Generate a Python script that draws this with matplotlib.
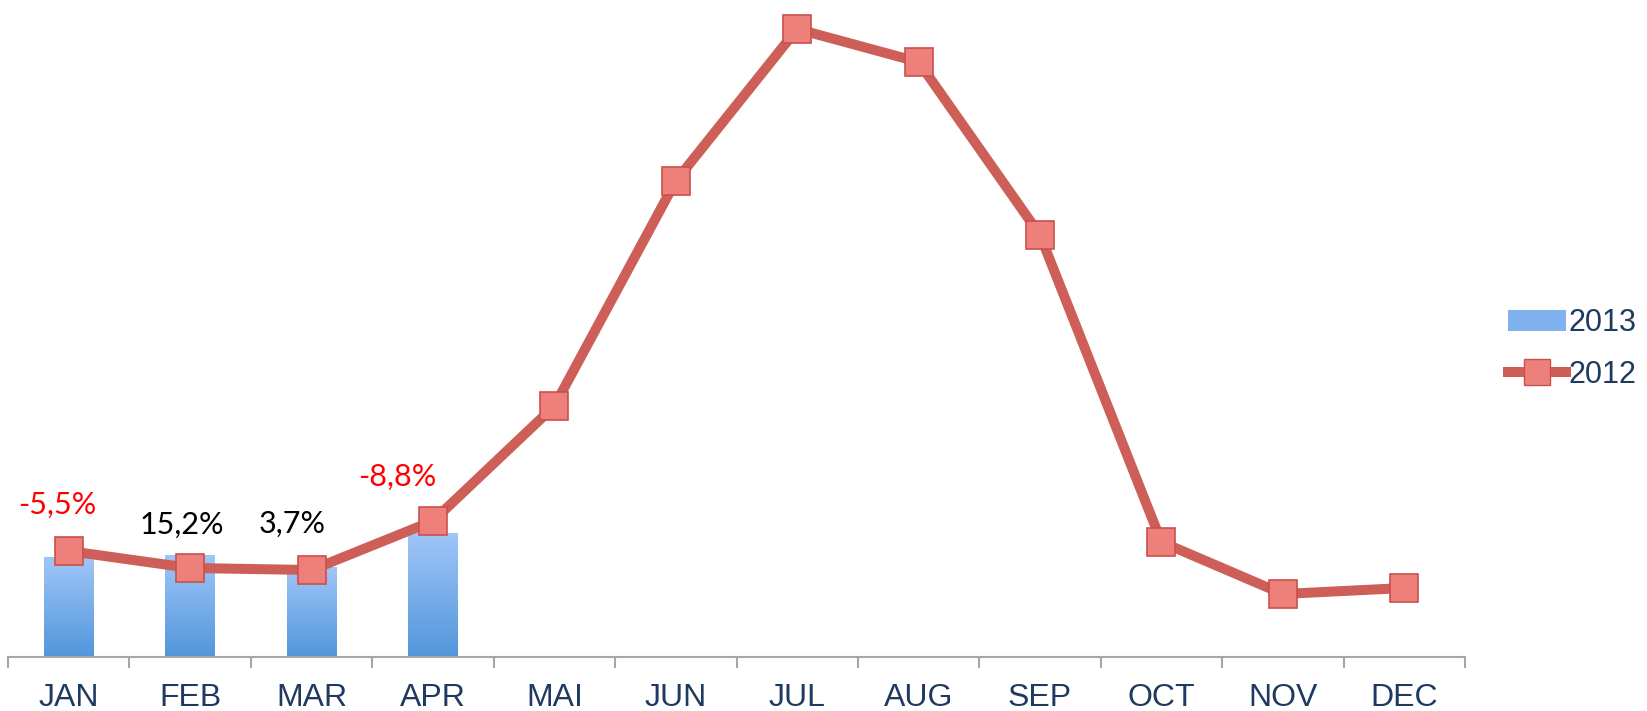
import numpy as np
import matplotlib.pyplot as plt
from matplotlib.patches import Patch
from matplotlib.lines import Line2D
from matplotlib.colors import LinearSegmentedColormap

months = ['JAN', 'FEB', 'MAR', 'APR', 'MAI', 'JUN', 'JUL', 'AUG', 'SEP', 'OCT', 'NOV', 'DEC']
sales_2012 = [106, 89, 87, 136, 251, 476, 628, 595, 422, 115, 63, 69]
sales_2013 = [100, 102, 90, 124]
change_labels = ['-5,5%', '15,2%', '3,7%', '-8,8%']
label_colors = ['red', 'black', 'black', 'red']

line_col = '#CD5F58'
text_col = '#1F3A60'

fig = plt.figure(figsize=(16.47, 7.11), dpi=100)
ax = fig.add_axes([8 / 1647, 54 / 711, 1457 / 1647, 657 / 711])
x = np.arange(len(months))
ax.set_xlim(-0.5, 11.5)
ax.set_ylim(0, 657)

# bars with vertical gradient
grad = np.linspace(0, 1, 256).reshape(-1, 1)
cmap = LinearSegmentedColormap.from_list('bl', ['#5196DB', '#A0C6F8'])
bars = ax.bar(x[:len(sales_2013)], sales_2013, width=0.41, color='none', edgecolor='none', zorder=2)
for b in bars:
    x0, y0, w, h = b.get_x(), b.get_y(), b.get_width(), b.get_height()
    im = ax.imshow(grad, cmap=cmap, extent=[x0, x0 + w, y0, y0 + h], origin='lower',
                   aspect='auto', zorder=2)
    im.set_clip_path(b)

ax.plot(x, sales_2012, color=line_col, lw=7.2, solid_capstyle='round', zorder=3,
        marker='s', ms=19.5, mfc='#EE807B', mec='#C9504C', mew=1.2)

offsets = [(-11, 46), (-8, 43), (-19, 46), (-36, 44)]
for i, lab in enumerate(change_labels):
    ax.annotate(lab, (x[i], sales_2012[i]), xytext=offsets[i], textcoords='offset pixels',
                ha='center', va='center', fontsize=22, family='Lato', color=label_colors[i])

for s in ['top', 'right', 'left']:
    ax.spines[s].set_visible(False)
ax.spines['bottom'].set_color('#A6A6A6')
ax.spines['bottom'].set_linewidth(1.5)
ax.set_yticks([])
ax.set_xticks(x)
ax.set_xticklabels(months, fontsize=23, family='Liberation Sans', color=text_col)
ax.tick_params(axis='x', which='major', length=0, pad=19)
ax.set_xticks(np.arange(-0.5, 12, 1), minor=True)
ax.tick_params(axis='x', which='minor', length=8, width=1.5, color='#A6A6A6')

handles = [Patch(facecolor='#7FB2EE', edgecolor='none'),
           Line2D([], [], color=line_col, lw=7.2, marker='s', ms=19, mfc='#EE807B', mec='#C9504C')]
fig.legend(handles, ['2013', '2012'], loc='center left', bbox_to_anchor=(1480 / 1647, 1 - 349 / 711),
           frameon=False, labelcolor=text_col, handlelength=1.9, handletextpad=0.1,
           labelspacing=0.7, prop={'family': 'Liberation Sans', 'size': 22})

fig.savefig('out.png', dpi=100)
